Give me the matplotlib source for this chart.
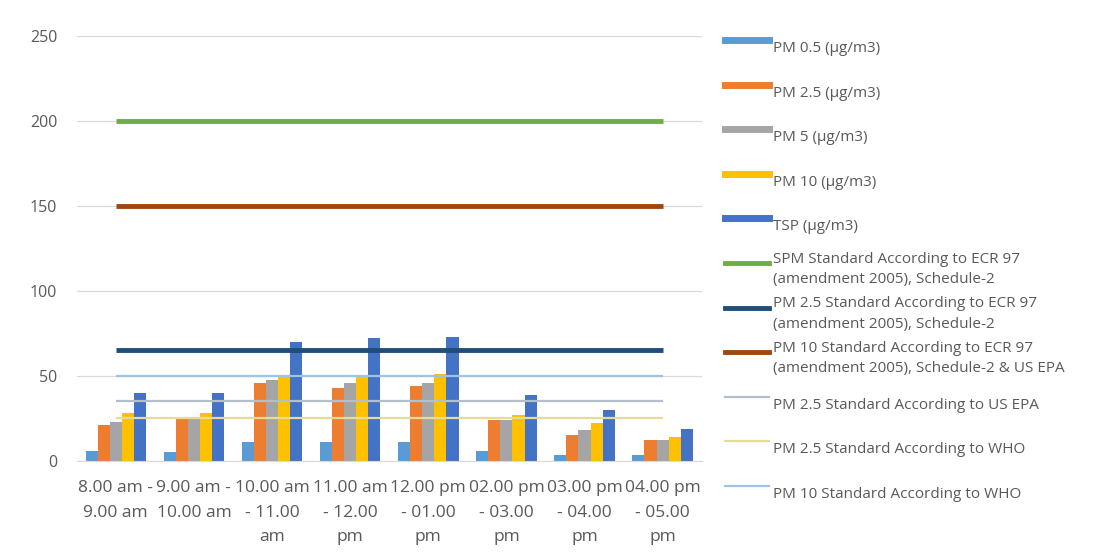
import matplotlib.pyplot as plt
from matplotlib.lines import Line2D
import numpy as np

# ----- data -----
periods = ["8.00 am -\n9.00 am", "9.00 am -\n10.00 am", "10.00 am\n- 11.00\nam",
           "11.00 am\n- 12.00\npm", "12.00 pm\n- 01.00\npm", "02.00 pm\n- 03.00\npm",
           "03.00 pm\n- 04.00\npm", "04.00 pm\n- 05.00\npm"]

pm05 = [6, 5, 11, 11, 11, 6, 3.5, 3.5]
pm25 = [21, 25, 46, 43, 44, 24, 15, 12]
pm5 = [23, 24.5, 47.5, 46, 46, 24, 18, 12.5]
pm10 = [28, 28, 50, 50, 51, 27, 22, 14]
tsp = [40, 40, 70, 72.5, 73, 39, 30, 19]

bar_names = ["PM 0.5 (µg/m3)", "PM 2.5 (µg/m3)", "PM 5 (µg/m3)", "PM 10 (µg/m3)", "TSP (µg/m3)"]
bar_colors = ["#5B9BD5", "#ED7D31", "#A5A5A5", "#FFC000", "#4472C4"]

std_names = ["SPM Standard According to ECR 97\n(amendment 2005), Schedule-2",
             "PM 2.5 Standard According to ECR 97\n(amendment 2005), Schedule-2",
             "PM 10 Standard According to ECR 97\n(amendment 2005), Schedule-2 & US EPA",
             "PM 2.5 Standard According to US EPA",
             "PM 2.5 Standard According to WHO",
             "PM 10 Standard According to WHO"]
std_values = [200, 65, 150, 35, 25, 50]
std_colors = ["#70AD47", "#1F4E79", "#9E480E", "#B4BFCC", "#E6DC9A", "#9DC3E6"]
std_widths = [3.5, 3.5, 3.5, 1.6, 1.6, 1.6]

text_color = "#595959"
plt.rcParams['font.family'] = ['Open Sans', 'DejaVu Sans']

fig = plt.figure(figsize=(11.12, 5.6), dpi=100)
ax = fig.add_axes([0.069, 0.177, 0.562, 0.759])

x = np.arange(len(periods))
series = [pm05, pm25, pm5, pm10, tsp]
w = 0.155
for i, vals in enumerate(series):
    ax.bar(x + (i - 2) * w, vals, width=w, color=bar_colors[i], zorder=2)

for v, c, lw in zip(std_values, std_colors, std_widths):
    ax.plot(x, [v] * len(x), color=c, linewidth=lw, solid_capstyle='butt', zorder=3)

ax.set_xlim(-0.5, len(periods) - 0.5)
ax.set_ylim(0, 250)
ax.set_yticks(range(0, 251, 50))
ax.set_xticks(x)
ax.set_xticklabels(periods, fontsize=12.5, color=text_color, linespacing=1.7)
ax.tick_params(axis='y', labelsize=11.5, labelcolor=text_color, length=0, pad=14)
ax.tick_params(axis='x', length=0, pad=14)
ax.yaxis.grid(True, color="#D9D9D9", linewidth=0.9, zorder=0)
ax.set_axisbelow(True)
for s in ["top", "right", "left"]:
    ax.spines[s].set_visible(False)
ax.spines["bottom"].set_color("#D9D9D9")

# legend
handles = [Line2D([], [], color=c, linewidth=5) for c in bar_colors]
handles += [Line2D([], [], color=c, linewidth=lw) for c, lw in zip(std_colors, std_widths)]
labels = bar_names + std_names
leg = fig.legend(handles, labels, loc='upper left', bbox_to_anchor=(0.652, 0.95),
                 frameon=False, fontsize=11, labelcolor=text_color, handlelength=2.9,
                 handleheight=3.62, labelspacing=0.32, handletextpad=0.25,
                 borderpad=0, borderaxespad=0)
for t in leg.get_texts():
    t.set_linespacing(1.5)

fig.savefig("out.png", dpi=100)
